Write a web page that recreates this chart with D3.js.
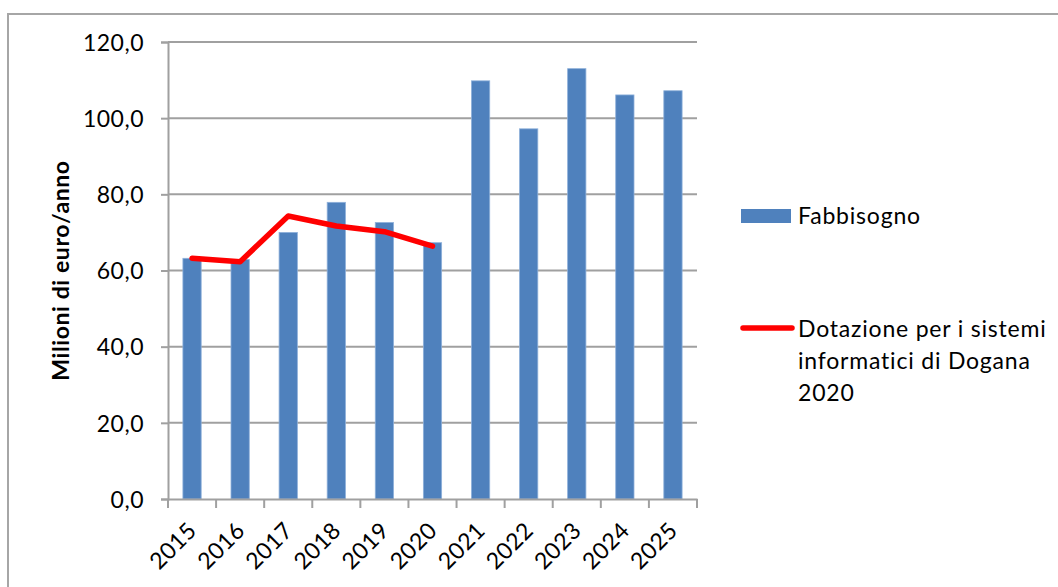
<!DOCTYPE html>
<html>
<head>
<meta charset="utf-8">
<script src="https://cdn.jsdelivr.net/npm/d3@7"></script>
<style>
  html, body { margin: 0; padding: 0; background: #fff; }
  svg { display: block; }
  text { font-family: Lato, "Open Sans", sans-serif; fill: #000; }
</style>
</head>
<body>
<svg id="chart" width="1058" height="587"></svg>
<script>
const categories = ["2015","2016","2017","2018","2019","2020","2021","2022","2023","2024","2025"];
const fabbisogno = [63.2, 62.9, 70.0, 77.9, 72.6, 67.3, 109.8, 97.2, 113.0, 106.1, 107.2];
const dotazioneYears = ["2015","2016","2017","2018","2019","2020"];
const dotazione = [63.2, 62.3, 74.3, 71.7, 70.2, 66.4];
const yTicks = [0, 20, 40, 60, 80, 100, 120];
const yTitle = "Milioni di euro/anno";
const legendBar = "Fabbisogno";
const legendLine = ["Dotazione per i sistemi", "informatici di Dogana", "2020"];

const svg = d3.select("#chart");
const W = 1058, H = 587;
const plot = { left: 168, right: 697, top: 42, bottom: 499 };

// outer border
svg.append("rect")
  .attr("x", 8).attr("y", 14)
  .attr("width", W + 20).attr("height", H + 20)
  .attr("fill", "none").attr("stroke", "#a6a6a6").attr("stroke-width", 2);

const x = d3.scaleBand().domain(categories).range([plot.left, plot.right]).paddingInner(0.62).paddingOuter(0.31);
const xb = d3.scaleBand().domain(categories).range([plot.left, plot.right]);
const y = d3.scaleLinear().domain([0, 120]).range([plot.bottom, plot.top]);

const locale = d3.formatLocale({ decimal: ",", thousands: ".", grouping: [3], currency: ["€", ""] });
const fmt = locale.format(".1f");

// gridlines
svg.append("g").selectAll("line")
  .data(yTicks.filter(d => d > 0))
  .join("line")
  .attr("x1", plot.left).attr("x2", plot.right)
  .attr("y1", d => y(d)).attr("y2", d => y(d))
  .attr("stroke", "#a0a0a0").attr("stroke-width", 2);

// bars
svg.append("g").selectAll("rect")
  .data(categories.map((c, i) => ({ c, v: fabbisogno[i] })))
  .join("rect")
  .attr("x", d => x(d.c))
  .attr("y", d => y(d.v))
  .attr("width", x.bandwidth())
  .attr("height", d => y(0) - y(d.v))
  .attr("fill", "#4f81bd")
  .attr("stroke", "#8eb0da").attr("stroke-width", 0.8);

// y axis
const yAxis = svg.append("g")
  .attr("transform", `translate(${plot.left},0)`)
  .call(d3.axisLeft(y).tickValues(yTicks).tickFormat(fmt).tickSize(7).tickPadding(17));
yAxis.select(".domain").attr("stroke", "#a0a0a0").attr("stroke-width", 2);
yAxis.selectAll(".tick line").attr("stroke", "#a0a0a0").attr("stroke-width", 2);
yAxis.selectAll(".tick text")
  .attr("font-size", 23).attr("font-family", "Lato").attr("fill", "#000")
  .attr("letter-spacing", "0.5px").attr("dy", "0.36em");

// x axis
const xAxis = svg.append("g")
  .attr("transform", `translate(0,${plot.bottom})`)
  .call(d3.axisBottom(xb).tickSize(0).tickFormat(""));
xAxis.select(".domain").attr("stroke", "#a0a0a0").attr("stroke-width", 2);
// tick marks at band boundaries
svg.append("g").selectAll("line")
  .data(categories.concat(["__end"]))
  .join("line")
  .attr("x1", (d, i) => i < categories.length ? xb(d) : plot.right)
  .attr("x2", (d, i) => i < categories.length ? xb(d) : plot.right)
  .attr("y1", plot.bottom).attr("y2", plot.bottom + 9)
  .attr("stroke", "#a0a0a0").attr("stroke-width", 2);

// rotated year labels
svg.append("g").selectAll("text")
  .data(categories)
  .join("text")
  .attr("transform", d => `translate(${xb(d) + xb.bandwidth() / 2 + 6},${plot.bottom + 33}) rotate(-45)`)
  .attr("text-anchor", "end")
  .attr("font-size", 23)
  .attr("letter-spacing", "0.4px")
  .text(d => d);

// line
const line = d3.line().x(d => xb(d.c) + xb.bandwidth() / 2).y(d => y(d.v));
svg.append("path")
  .datum(dotazioneYears.map((c, i) => ({ c, v: dotazione[i] })))
  .attr("d", line)
  .attr("fill", "none")
  .attr("stroke", "#ff0000")
  .attr("stroke-width", 5.5)
  .attr("stroke-linecap", "round")
  .attr("stroke-linejoin", "round");

// y title
svg.append("text")
  .attr("transform", `translate(69,${(plot.top + plot.bottom) / 2}) rotate(-90)`)
  .attr("text-anchor", "middle")
  .attr("font-size", 23)
  .attr("font-weight", "bold")
  .attr("letter-spacing", "0.6px")
  .text(yTitle);

// legend
const lg = svg.append("g");
lg.append("rect").attr("x", 741).attr("y", 209).attr("width", 50).attr("height", 14).attr("fill", "#4f81bd");
lg.append("text").attr("x", 798).attr("y", 224).attr("font-size", 23).attr("letter-spacing", "0.8px").text(legendBar);
lg.append("line").attr("x1", 743).attr("x2", 792).attr("y1", 328).attr("y2", 328)
  .attr("stroke", "#ff0000").attr("stroke-width", 5.5).attr("stroke-linecap", "round");
lg.selectAll("text.l2").data(legendLine).join("text")
  .attr("class", "l2")
  .attr("x", 798)
  .attr("y", (d, i) => 337 + i * 32)
  .attr("font-size", 23)
  .attr("letter-spacing", "0.8px")
  .text(d => d);
</script>
</body>
</html>
